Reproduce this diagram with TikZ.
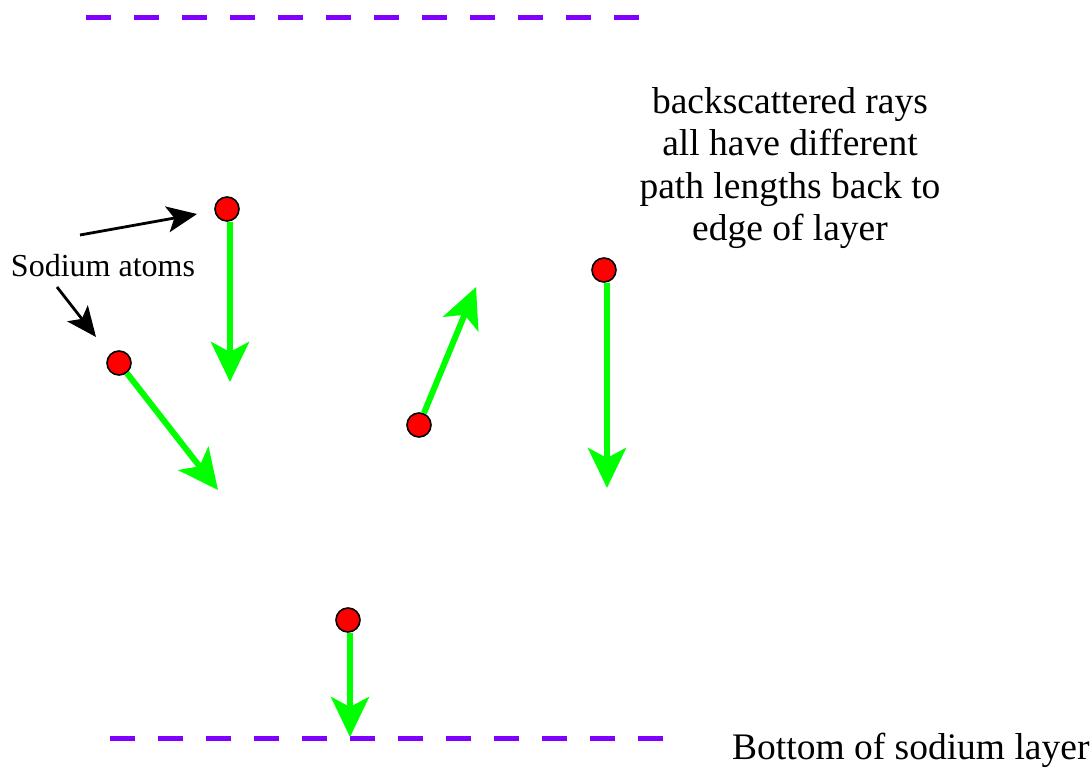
\documentclass[tikz,border=0pt]{standalone}
\usepackage{fontspec}
\setmainfont{Liberation Serif}
\usetikzlibrary{arrows.meta}
\definecolor{layerviolet}{RGB}{128,0,255}
\definecolor{raygreen}{RGB}{0,255,0}
\begin{document}
\begin{tikzpicture}[x=1pt,y=-1pt,
  atom/.style={circle,draw=black,line width=1.6pt,fill=red,minimum size=24pt,inner sep=0pt},
  ray/.style={draw=raygreen,line width=6pt,-{Stealth[length=40pt,width=38pt,inset=10pt]}},
  pointer/.style={draw=black,line width=2.8pt,-{Stealth[length=30pt,width=26pt,inset=7pt]}},
  layer/.style={draw=layerviolet,line width=5pt,dash pattern=on 25pt off 23pt},
  bigtext/.style={font=\fontsize{37.5}{42.5}\selectfont,inner sep=0pt,align=center},
  smalltext/.style={font=\fontsize{32}{36}\selectfont,inner sep=0pt}]
\useasboundingbox (0,0) rectangle (1092,769);
% layer edges
\coordinate (t1) at (86,17);
\coordinate (t2) at (640,17);
\coordinate (b1) at (110,738);
\coordinate (b2) at (664,738);
\draw[layer] (t1) -- (t2);
\draw[layer] (b1) -- (b2);
% atoms
\node[atom] (a1) at (227,209) {};
\node[atom] (a2) at (119,363) {};
\node[atom] (a3) at (419,425) {};
\node[atom] (a4) at (604,270) {};
\node[atom] (a5) at (348,620) {};
% ray ends
\coordinate (e1) at (230,382);
\coordinate (e2) at (218,490);
\coordinate (e3) at (476,287);
\coordinate (e4) at (607,488);
\coordinate (e5) at (350,737);
\draw[ray] ([xshift=3pt]a1.south) -- (e1);
\draw[ray] (a2) -- (e2);
\draw[ray] (a3) -- (e3);
\draw[ray] ([xshift=3pt]a4.south) -- (e4);
\draw[ray] ([xshift=2pt]a5.south) -- (e5);
% labels
\node[smalltext] (lab) at (103,266) {Sodium atoms};
\coordinate (p1s) at (80,235);
\coordinate (p1e) at (197,214);
\coordinate (p2s) at (57,287);
\coordinate (p2e) at (96,337);
\draw[pointer] (p1s) -- (p1e);
\draw[pointer] (p2s) -- (p2e);
\node[bigtext] (note) at (790,168) {backscattered rays\\all have different\\path lengths back to\\edge of layer};
\node[bigtext,anchor=west] (bottom) at (732,750) {Bottom of sodium layer};
\end{tikzpicture}
\end{document}
